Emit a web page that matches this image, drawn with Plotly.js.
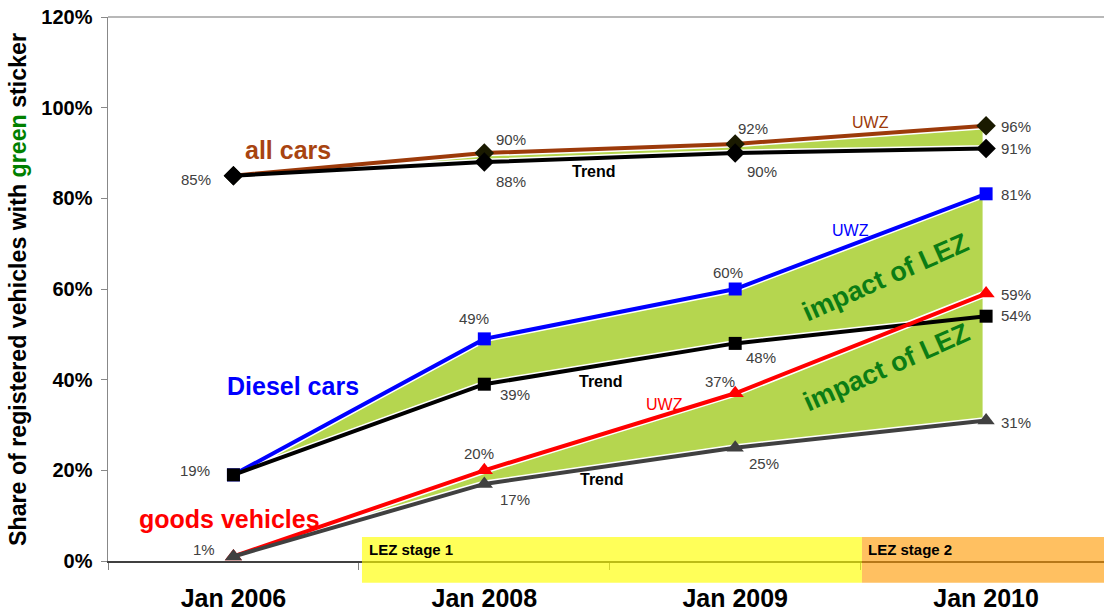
<!DOCTYPE html>
<html>
<head>
<meta charset="utf-8">
<script src="https://cdn.plot.ly/plotly-3.0.1.min.js"></script>
<style>html,body{margin:0;padding:0;background:#fff;}#chart{width:1104px;height:611px;}</style>
</head>
<body>
<div id="chart"></div>
<script>
// ---- data ----
const categories = ["Jan 2006", "Jan 2008", "Jan 2009", "Jan 2010"];
const allCarsUWZ   = [85, 90, 92, 96];
const allCarsTrend = [85, 88, 90, 91];
const dieselUWZ    = [19, 49, 60, 81];
const dieselTrend  = [19, 39, 48, 54];
const goodsUWZ     = [1, 20, 37, 59];
const goodsTrend   = [1, 17, 25, 31];

// ---- styles ----
const FILL = '#b5d64f';
const BROWN = '#9c3a0a';
const LBL = '#404040';
const xi = categories.map((c, i) => i);

function band(top, bottom) {
  return {
    x: xi.concat(xi.slice().reverse()),
    y: top.concat(bottom.slice().reverse()),
    type: 'scatter', mode: 'lines', fill: 'toself',
    fillcolor: FILL, line: {color: '#ffffff', width: 7},
    hoverinfo: 'skip', showlegend: false
  };
}
function series(vals, color, symbol, mcolor, msize) {
  return {
    x: xi, y: vals, type: 'scatter', mode: 'lines+markers',
    line: {color: color, width: 4},
    marker: {symbol: symbol, size: msize, color: mcolor},
    showlegend: false, cliponaxis: false
  };
}

const traces = [
  band(allCarsUWZ, allCarsTrend),
  band(dieselUWZ, dieselTrend),
  band(goodsUWZ, goodsTrend),
  series(allCarsUWZ, BROWN, 'diamond', '#1a1a00', 15),
  series(allCarsTrend, '#000000', 'diamond', '#000000', 15),
  series(dieselUWZ, '#0000ff', 'square', '#0000ff', 13),
  series(dieselTrend, '#000000', 'square', '#000000', 13),
  series(goodsUWZ, '#ff0000', 'triangle-up', '#ff0000', 15),
  series(goodsTrend, '#404040', 'triangle-up', '#404040', 15)
];

// value labels: [series, index, xshift, yshift]
const labelSpecs = [
  [allCarsUWZ, 0, -37, -4], [allCarsUWZ, 1, 27, 14], [allCarsTrend, 1, 27, -19],
  [allCarsUWZ, 2, 18, 15], [allCarsTrend, 2, 27, -18], [allCarsUWZ, 3, 30, -1],
  [allCarsTrend, 3, 30, 0],
  [dieselUWZ, 3, 30, -1], [dieselUWZ, 2, -7, 17], [dieselUWZ, 1, -10, 20],
  [dieselTrend, 1, 31, -10], [dieselTrend, 2, 26, -14], [dieselTrend, 0, -38, 4],
  [dieselTrend, 3, 30, 1],
  [goodsUWZ, 2, -15, 12], [goodsUWZ, 1, -5, 17], [goodsTrend, 1, 31, -16],
  [goodsTrend, 2, 29, -16], [goodsTrend, 3, 30, -2], [goodsUWZ, 3, 30, -1],
  [goodsTrend, 0, -29, 7]
];
const annotations = labelSpecs.map(s => ({
  x: s[1], y: s[0][s[1]], text: s[0][s[1]] + '%', showarrow: false,
  xshift: s[2], yshift: s[3], font: {family: 'Liberation Sans, Arial', size: 15, color: LBL}
}));

function txt(x, y, text, size, color, bold, extra) {
  return Object.assign({
    x: x, y: y, text: bold ? '<b>' + text + '</b>' : text, showarrow: false,
    xanchor: 'center', yanchor: 'middle',
    font: {family: 'Liberation Sans, Arial', size: size, color: color}
  }, extra || {});
}
annotations.push(
  txt(0.218, 90.7, 'all cars', 25, '#a84410', true),
  txt(2.541, 96.8, 'UWZ', 16, BROWN, false),
  txt(1.437, 86.0, 'Trend', 16, '#000', true),
  txt(0.237, 38.6, 'Diesel cars', 25, '#0000ff', true),
  txt(2.461, 73.0, 'UWZ', 16, '#0000ff', false),
  txt(1.465, 39.5, 'Trend', 16, '#000', true),
  txt(2.601, 62.7, 'impact of LEZ', 27, '#0b7d14', true, {textangle: -24}),
  txt(2.605, 42.8, 'impact of LEZ', 27, '#0b7d14', true, {textangle: -24}),
  txt(-0.017, 9.3, 'goods vehicles', 25, '#ff0000', true),
  txt(1.72, 34.6, 'UWZ', 16, '#ff0000', false),
  txt(1.469, 17.9, 'Trend', 16, '#000', true),
  txt(0.26, 0.022, 'LEZ stage 1', 15, '#000', true, {xref: 'paper', yref: 'paper', xanchor: 'left'}),
  txt(0.761, 0.022, 'LEZ stage 2', 15, '#000', true, {xref: 'paper', yref: 'paper', xanchor: 'left'}),
  txt(-0.0904, 0.50, 'Share of registered vehicles with <span style="color:#008000">green</span> sticker',
      23.2, '#000', true, {xref: 'paper', yref: 'paper', textangle: -90})
);

const layout = {
  width: 1104, height: 611,
  margin: {l: 108, r: 0, t: 17, b: 50},
  paper_bgcolor: '#fff', plot_bgcolor: '#fff',
  xaxis: {
    range: [-0.5, 3.47], tickvals: xi, ticktext: categories,
    showgrid: false, zeroline: false, showline: true, linecolor: '#404040', linewidth: 1.5,
    ticks: '', ticklabelstandoff: 14,
    tickfont: {family: 'Liberation Sans, Arial', size: 25, color: '#000', weight: 'bold'},
    minor: {tick0: 0.5, dtick: 1, ticks: 'outside', ticklen: 7, tickcolor: '#808080', showgrid: false}
  },
  yaxis: {
    range: [0, 120], dtick: 20, ticksuffix: '%',
    showgrid: false, zeroline: false, showline: true, linecolor: '#888', linewidth: 1.5,
    ticks: 'outside', ticklen: 6, tickcolor: '#888', ticklabelstandoff: 4,
    tickfont: {family: 'Liberation Sans, Arial', size: 20, color: '#000', weight: 'bold'}
  },
  shapes: [
    {type: 'line', xref: 'paper', yref: 'paper', x0: 0, x1: 1, y0: 1, y1: 1, line: {color: '#a0a0a0', width: 1.5}},
    {type: 'rect', xref: 'paper', yref: 'paper', x0: 0.255, x1: 0.757, y0: -0.040, y1: 0.044,
     fillcolor: '#ffff00', opacity: 0.65, line: {width: 0}, layer: 'above'},
    {type: 'rect', xref: 'paper', yref: 'paper', x0: 0.757, x1: 1.0, y0: -0.040, y1: 0.044,
     fillcolor: '#ff9900', opacity: 0.62, line: {width: 0}, layer: 'above'}
  ],
  annotations: annotations,
  showlegend: false
};

Plotly.newPlot('chart', traces, layout, {displayModeBar: false, staticPlot: true});
</script>
</body>
</html>
